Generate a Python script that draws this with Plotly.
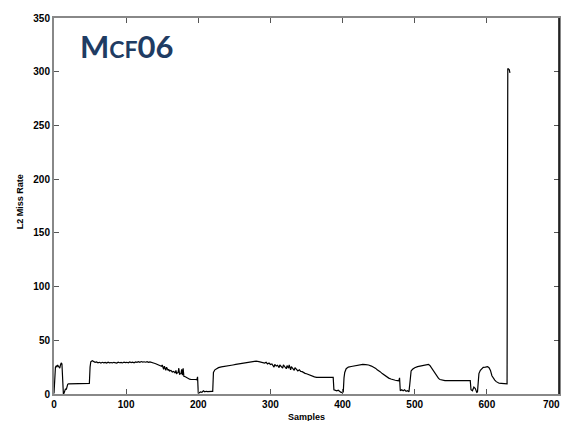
import plotly.graph_objects as go

samples = [0, 1, 2, 3, 4, 5, 6, 7, 8, 9, 10, 11, 12, 13, 14, 15, 16, 17, 18, 19, 20, 24, 28, 32, 36, 40, 44, 48, 49,
           50, 51, 53, 55, 57, 59, 61, 63, 65, 67, 69, 71, 73, 75, 77, 79, 81, 83, 85, 87, 89, 91, 93, 95, 97, 99,
           101, 103, 105, 107, 109, 111, 113, 115, 117, 119, 121, 123, 125, 127, 129, 131, 133, 135, 137, 139, 141,
           143, 145, 147, 149, 150, 151, 152, 153, 154, 155, 156, 157, 158, 159, 160, 162, 164, 166, 168, 169, 170,
           172, 173, 174, 176, 177, 178, 179, 180, 182, 184, 186, 188, 190, 192, 194, 196, 198, 199, 200, 201, 203,
           205, 207, 209, 211, 213, 215, 217, 219, 220, 221, 223, 225, 228, 232, 236, 240, 244, 248, 252, 256, 260,
           264, 268, 272, 276, 280, 284, 288, 292, 294, 296, 298, 300, 302, 304, 305, 306, 308, 310, 312, 313, 315,
           317, 318, 320, 322, 323, 325, 326, 328, 329, 331, 333, 334, 336, 338, 340, 342, 344, 346, 348, 350, 352,
           355, 358, 361, 364, 368, 372, 376, 380, 384, 387, 388, 390, 392, 394, 396, 398, 400, 401, 402, 403, 405,
           408, 412, 416, 420, 424, 428, 432, 436, 440, 443, 446, 448, 450, 452, 455, 458, 461, 464, 467, 470, 473,
           476, 478, 479, 480, 482, 484, 486, 488, 490, 492, 493, 494, 495, 497, 500, 504, 508, 512, 516, 519, 521,
           523, 525, 527, 529, 531, 533, 535, 538, 542, 546, 550, 555, 560, 565, 570, 575, 577, 578, 580, 582, 584,
           586, 587, 588, 589, 591, 593, 595, 598, 601, 603, 605, 607, 609, 611, 613, 615, 617, 620, 623, 626, 628,
           629, 631, 632]

miss_rate = [0.5, 22, 25, 26, 25, 27, 26, 25, 24, 27, 29, 28, 1, 0, 1, 3, 5, 4, 7, 9, 9.5, 9.5, 9.6, 9.5, 9.6, 9.5, 9.6, 9.6, 9.8,
             25, 30, 31, 30.5, 29.5, 29.8, 29, 29.5, 28.8, 29.5, 29, 29.4, 28.8, 29.6, 29, 29.3, 28.9, 29.5, 29.2, 28.8,
             29.6, 29.1, 29.4, 28.9, 29.7, 29.2, 29.5, 29, 29.8, 29.3, 29.6, 29.1, 29.8, 29.4, 30, 29.5, 30.2, 29.7, 30,
             29.6, 30.1, 29.5, 29.8, 29.2, 29, 28.6, 28.2, 27.5, 27, 26.5, 25.8, 27, 25, 23, 26, 24, 22, 25, 23.5, 22,
             23, 21.5, 22, 20.5, 21, 19.5, 22, 19, 20, 24, 18.5, 19, 23, 17.5, 24, 16.5, 16, 15, 14, 13.8, 13.5, 13.6,
             13.4, 13.5, 13.2, 16, 0.5, 1, 2, 1.5, 3, 2, 2.5, 2.2, 2.5, 2.3, 2.5, 2.4, 20, 22.5, 23.5, 24.5, 25.2, 25.8,
             26.2, 26.8, 27, 27.5, 28, 28.2, 28.5, 29, 29.3, 30, 30.5, 30.2, 29.5, 28.8, 29.5, 28, 28.8, 27.5, 28, 26.5,
             25, 27.5, 26, 26.8, 24.5, 27, 25.5, 24, 27, 25, 23.5, 26.5, 24, 27, 22.5, 25.5, 23.8, 22, 24.5, 22.8, 21.5,
             22.5, 21, 20.8, 19.8, 19.2, 18.8, 18.2, 17.5, 16.8, 16, 15.5, 15.4, 15.5, 15.4, 15.5, 15.5, 15.4, 4, 3.5,
             3, 3.5, 2, 1.5, 1.2, 2, 15, 20, 23.5, 25, 25.6, 26.2, 26.8, 27.2, 27.5, 27.3, 27, 26, 25, 23.8, 22.5, 22,
             20.8, 19, 17.5, 16, 14.8, 14, 13.2, 12.8, 12.5, 12.3, 15, 3, 4, 3, 4, 2.5, 3, 2, 8, 18, 21.5, 23, 24.5,
             25.5, 26, 26.5, 27.5, 27.6, 26.5, 24.5, 22.5, 20, 18, 16, 14.5, 13.5, 12.8, 12.5, 12.4, 12.5, 12.4, 12.5,
             12.4, 12.4, 12.5, 12.4, 4, 3, 6.5, 5, 1.5, 2, 10, 19, 22, 24, 24.8, 25, 25.5, 24.5, 22, 17, 14.5, 13, 11.5,
             10.5, 10, 9.8, 9.5, 9.3, 9.4, 303, 302, 299]

x_ticks = [0, 100, 200, 300, 400, 500, 600, 700]
y_ticks = [0, 50, 100, 150, 200, 250, 300, 350]

fig = go.Figure()
fig.add_trace(go.Scatter(x=samples, y=miss_rate, mode="lines",
                         line=dict(color="black", width=1.2), showlegend=False))

tickfont = dict(family="Liberation Sans, Arial, sans-serif", size=10, color="black", weight="bold")
fig.update_xaxes(range=[0, 700], tickvals=x_ticks, ticks="inside", ticklen=5, tickcolor="#555",
                 showgrid=False, zeroline=False, showline=True, linecolor="#888", linewidth=2,
                 mirror="ticks", tickfont=tickfont)
fig.update_yaxes(range=[0, 350], tickvals=y_ticks, ticks="inside", ticklen=5, tickcolor="#555",
                 showgrid=False, zeroline=False, showline=True, linecolor="#888", linewidth=2,
                 mirror="ticks", tickfont=tickfont)

fig.add_shape(type="line", xref="paper", yref="paper", x0=1, x1=1, y0=0, y1=1,
              line=dict(color="black", width=1.5))

# last x tick label, kept inside the canvas
fig.add_annotation(xref="x", yref="paper", x=x_ticks[-1], y=0, yshift=-10, xshift=3,
                   text=str(x_ticks[-1]), showarrow=False, xanchor="right", yanchor="middle",
                   font=tickfont)

fig.add_annotation(xref="paper", yref="paper", x=0.5, y=0, yshift=-23, text="Samples",
                   showarrow=False, font=dict(family="Liberation Sans, Arial", size=9, color="black", weight="bold"),
                   yanchor="middle")
fig.add_annotation(xref="paper", yref="paper", x=0, y=0.51, xshift=-34, text="L2 Miss Rate",
                   textangle=-90, showarrow=False,
                   font=dict(family="Liberation Sans, Arial", size=9, color="black", weight="bold"),
                   xanchor="center", yanchor="middle")
fig.add_annotation(xref="paper", yref="paper", x=0, y=1, xshift=24, yshift=-7,
                   text="M<span style='font-size:23px'>CF</span>06",
                   showarrow=False, xanchor="left", yanchor="top",
                   font=dict(family="Lato, Noto Sans, sans-serif", size=31, color="#1f3c63", weight="bold"))

fig.update_layout(width=565, height=421, margin=dict(l=54, r=4, t=18, b=27),
                  paper_bgcolor="white", plot_bgcolor="white")

fig.write_html("out.html")
